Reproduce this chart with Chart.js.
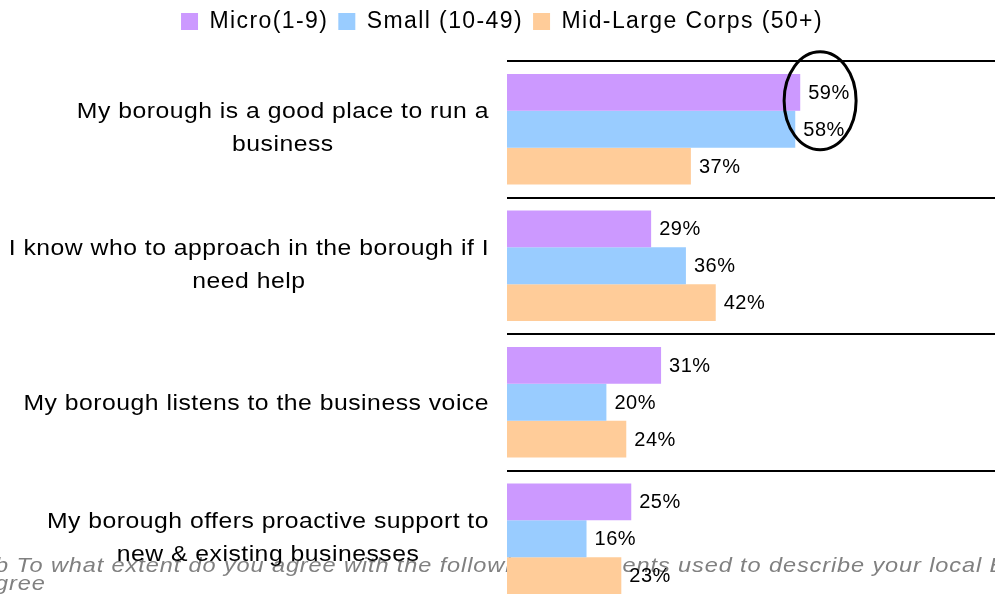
<!DOCTYPE html>
<html>
<head>
<meta charset="utf-8">
<title>Borough perceptions by business size</title>
<script src="https://cdn.jsdelivr.net/npm/chart.js@4.4.1/dist/chart.umd.min.js"></script>
<style>
  html, body { margin: 0; padding: 0; background: #fff; overflow: hidden; }
  #wrap { position: relative; width: 1004px; height: 620px; }
</style>
</head>
<body>
<div id="wrap"><canvas id="boroughChart"></canvas></div>
<script>
const FONT = "'Liberation Sans', Arial, sans-serif";

// statements (one array per wrapped line) and % agreeing, by business size
const statements = [
  ["My borough is a good place to run a", "business"],
  ["I know who to approach in the borough if I", "need help"],
  ["My borough listens to the business voice"],
  ["My borough offers proactive support to", "new & existing businesses"]
];
const microValues = [59, 29, 31, 25];
const smallValues = [58, 36, 20, 16];
const midLargeValues = [37, 42, 24, 23];
const seriesNames = ["Micro(1-9)", "Small (10-49)", "Mid-Large Corps (50+)"];
const seriesColors = ["#CC99FF", "#99CCFF", "#FFCC99"];
const footnoteLines = [
  "Q5b To what extent do you agree with the following statements used to describe your local Borough?",
  "% agree"
];

// slightly wide lettering used for the statements and the footnote
function stretchedText(ctx, text, x, y, sx) {
  ctx.save();
  ctx.translate(x, y);
  ctx.scale(sx, 1);
  ctx.fillText(text, 0, 0);
  ctx.restore();
}

// wider tracking for the legend text
const letterSpacing = {
  id: "letterSpacing",
  beforeLayout(chart) { chart.ctx.letterSpacing = "1.4px"; },
  beforeDraw(chart) { chart.ctx.letterSpacing = "1.4px"; }
};

// question footnote, sits behind the bars
const footnote = {
  id: "footnote",
  beforeDatasetsDraw(chart) {
    const ctx = chart.ctx;
    const sx = 1.12;
    ctx.save();
    ctx.font = "italic 21px " + FONT;
    ctx.letterSpacing = "0.8px";
    ctx.fillStyle = "#808080";
    ctx.textAlign = "left";
    ctx.textBaseline = "alphabetic";
    stretchedText(ctx, footnoteLines[0], -ctx.measureText("Q5").width * sx - 5, 572, sx);
    stretchedText(ctx, footnoteLines[1], -ctx.measureText("% a").width * sx - 5, 590, sx);
    ctx.restore();
  }
};

// statement labels: block right-aligned, lines centred within it
const statementLabels = {
  id: "statementLabels",
  afterDatasetsDraw(chart) {
    const { ctx, chartArea, scales: { y } } = chart;
    const sx = 1.1;
    ctx.save();
    ctx.font = "22.5px " + FONT;
    ctx.letterSpacing = "0.45px";
    ctx.fillStyle = "#000";
    ctx.textAlign = "center";
    ctx.textBaseline = "middle";
    const right = chartArea.left - 18;
    const lineHeight = 33;
    statements.forEach((lines, i) => {
      const widest = Math.max(...lines.map(l => ctx.measureText(l).width)) * sx;
      const cx = right - widest / 2;
      const cy = y.getPixelForValue(i) + 2 - (lines.length > 1 ? 2.5 : 0);
      lines.forEach((line, j) => {
        stretchedText(ctx, line, cx, cy + (j - (lines.length - 1) / 2) * lineHeight, sx);
      });
    });
    ctx.restore();
  }
};

// percentage at the end of every bar
const valueLabels = {
  id: "valueLabels",
  afterDatasetsDraw(chart) {
    const ctx = chart.ctx;
    ctx.save();
    ctx.font = "20px " + FONT;
    ctx.letterSpacing = "0.5px";
    ctx.fillStyle = "#000";
    ctx.textAlign = "left";
    ctx.textBaseline = "middle";
    chart.data.datasets.forEach((ds, di) => {
      chart.getDatasetMeta(di).data.forEach((bar, i) => {
        ctx.fillText(ds.data[i] + "%", bar.x + 8, bar.y + 1);
      });
    });
    ctx.restore();
  }
};

// ring round the two top scores
const highlightRing = {
  id: "highlightRing",
  afterDraw(chart) {
    const ctx = chart.ctx;
    const a = chart.getDatasetMeta(0).data[0];
    const b = chart.getDatasetMeta(1).data[0];
    const cx = chart.scales.x.getPixelForValue(63);
    const cy = (a.y + b.y) / 2 - 10;
    ctx.save();
    ctx.beginPath();
    ctx.ellipse(cx, cy, 36, 49, 0, 0, Math.PI * 2);
    ctx.lineWidth = 3;
    ctx.strokeStyle = "#000";
    ctx.stroke();
    ctx.restore();
  }
};

const seriesValues = [microValues, smallValues, midLargeValues];

new Chart(document.getElementById("boroughChart"), {
  type: "bar",
  data: {
    labels: statements.map(s => s.join(" ")),
    datasets: seriesNames.map((name, i) => ({
      label: name,
      data: seriesValues[i],
      backgroundColor: seriesColors[i],
      borderWidth: 0,
      categoryPercentage: 0.81,
      barPercentage: 1
    }))
  },
  options: {
    indexAxis: "y",
    responsive: true,
    maintainAspectRatio: false,
    animation: false,
    layout: { padding: { top: 0, bottom: 13, left: 0, right: 0 } },
    plugins: {
      legend: {
        position: "top",
        labels: {
          color: "#000",
          font: { size: 23, family: FONT },
          boxWidth: 17,
          boxHeight: 17,
          padding: 10
        }
      },
      tooltip: { enabled: false }
    },
    scales: {
      // hidden axis kept only as a spacer under the legend
      x: {
        position: "top",
        min: 0,
        max: 100,
        grid: { display: false },
        border: { display: false },
        ticks: { display: false },
        afterFit(scale) { scale.height = 18; }
      },
      y: {
        grid: { color: "#000", lineWidth: 2, drawTicks: false, offset: true },
        border: { display: false },
        ticks: { display: false },
        afterFit(scale) { scale.width = 507; }
      }
    }
  },
  plugins: [letterSpacing, footnote, statementLabels, valueLabels, highlightRing]
});
</script>
</body>
</html>
